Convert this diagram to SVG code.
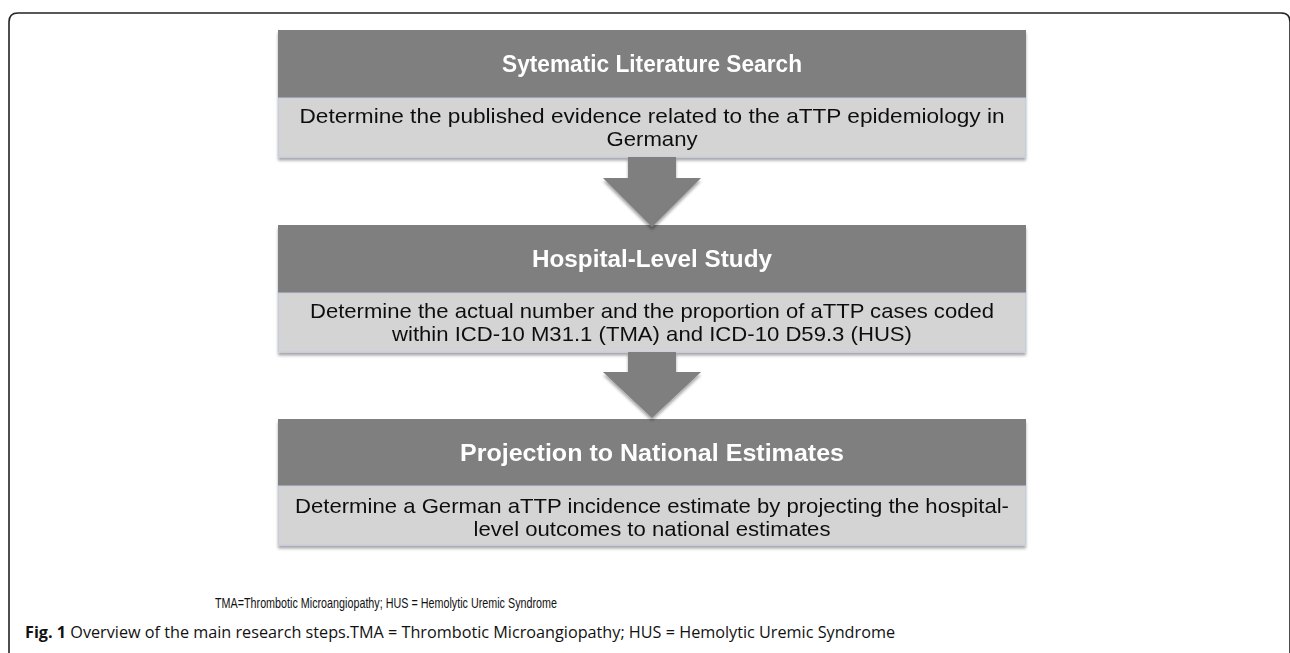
<svg xmlns="http://www.w3.org/2000/svg" width="1290" height="653" viewBox="0 0 1290 653">
<defs>
<filter id="sh" x="-5%" y="-10%" width="110%" height="130%">
<feDropShadow dx="0" dy="3" stdDeviation="1.5" flood-color="#000" flood-opacity="0.35"/>
</filter>
<style>
.hdr{fill:#7f7f7f;}
.band{fill:#d4d4d4;stroke:#c6cce0;stroke-width:1;}
.arrow{fill:#7f7f7f;}
.title{font-family:"Liberation Sans",Arial,sans-serif;font-weight:bold;font-size:23.5px;fill:#ffffff;text-anchor:middle;}
.body{font-family:"Liberation Sans",Arial,sans-serif;font-size:21px;fill:#111111;text-anchor:middle;}
.foot{font-family:"Liberation Sans",Arial,sans-serif;font-size:15px;fill:#111111;}
.cap{font-family:"Open Sans","Noto Sans",sans-serif;font-size:16.5px;fill:#111111;}
.frame{fill:none;stroke:#222222;stroke-width:1.6;}
</style>
</defs>
<path class="frame" d="M9,653 V22 Q9,13 18,13 H1281 Q1290,13 1290,22 V653"/>

<g id="node1" filter="url(#sh)">
<rect class="hdr" x="278" y="30" width="748" height="68"/>
<rect class="band" x="278.5" y="98" width="747" height="59"/>
<text class="title" x="652" y="72" textLength="300" lengthAdjust="spacingAndGlyphs">Sytematic Literature Search</text>
<text class="body" x="652" y="123" textLength="705" lengthAdjust="spacingAndGlyphs">Determine the published evidence related to the aTTP epidemiology in</text>
<text class="body" x="652" y="146" textLength="91" lengthAdjust="spacingAndGlyphs">Germany</text>
</g>

<g id="node2" filter="url(#sh)">
<rect class="hdr" x="278" y="225" width="748" height="68"/>
<rect class="band" x="278.5" y="293" width="747" height="59"/>
<text class="title" x="652" y="267" textLength="240" lengthAdjust="spacingAndGlyphs">Hospital-Level Study</text>
<text class="body" x="652" y="318" textLength="684" lengthAdjust="spacingAndGlyphs">Determine the actual number and the proportion of aTTP cases coded</text>
<text class="body" x="652" y="341" textLength="520" lengthAdjust="spacingAndGlyphs">within ICD-10 M31.1 (TMA) and ICD-10 D59.3 (HUS)</text>
</g>

<g id="node3" filter="url(#sh)">
<rect class="hdr" x="278" y="419" width="748" height="67"/>
<rect class="band" x="278.5" y="486" width="747" height="59"/>
<text class="title" x="652" y="461" textLength="384" lengthAdjust="spacingAndGlyphs">Projection to National Estimates</text>
<text class="body" x="652" y="513" textLength="714" lengthAdjust="spacingAndGlyphs">Determine a German aTTP incidence estimate by projecting the hospital-</text>
<text class="body" x="652" y="536" textLength="357" lengthAdjust="spacingAndGlyphs">level outcomes to national estimates</text>
</g>

<g id="connectors" filter="url(#sh)">
<polygon class="arrow" points="628,157 676,157 676,178 701,178 652,227 603,178 628,178"/>
<polygon class="arrow" points="628,352 676,352 676,372 701,372 652,418 603,372 628,372"/>
</g>

<text class="foot" x="215" y="608" textLength="342" lengthAdjust="spacingAndGlyphs">TMA=Thrombotic Microangiopathy; HUS = Hemolytic Uremic Syndrome</text>
<text class="cap" x="25" y="638" textLength="870" lengthAdjust="spacingAndGlyphs"><tspan font-weight="bold">Fig. 1</tspan> Overview of the main research steps.TMA = Thrombotic Microangiopathy; HUS = Hemolytic Uremic Syndrome</text>
</svg>
